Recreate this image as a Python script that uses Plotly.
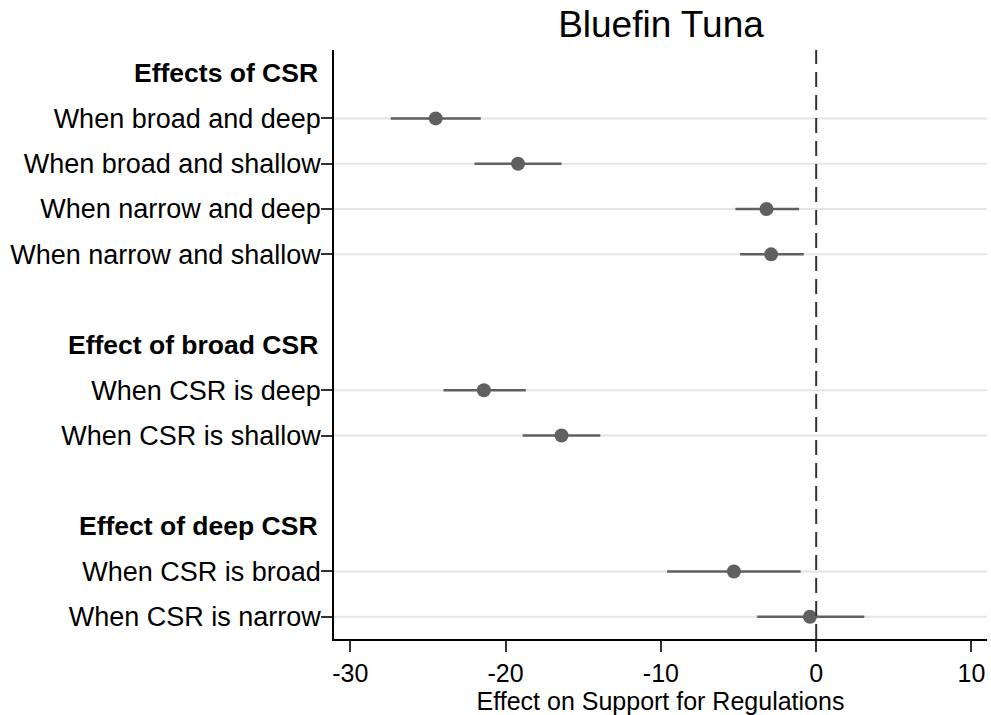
import plotly.graph_objects as go

# Grouped comparisons: section headers with their row labels
group_titles = ["Effects of CSR", "Effect of broad CSR", "Effect of deep CSR"]
group_rows = [
    ["When broad and deep", "When broad and shallow",
     "When narrow and deep", "When narrow and shallow"],
    ["When CSR is deep", "When CSR is shallow"],
    ["When CSR is broad", "When CSR is narrow"],
]

# Point estimates and confidence bounds, in row order
estimate = [-24.5, -19.2, -3.2, -2.9, -21.4, -16.4, -5.3, -0.4]
ci_low = [-27.4, -22.0, -5.2, -4.9, -24.0, -18.9, -9.6, -3.8]
ci_high = [-21.6, -16.4, -1.1, -0.8, -18.7, -13.9, -1.0, 3.1]

x_ticks = [-30, -20, -10, 0, 10]
reference_value = 0

# Lay the groups out top to bottom: header, rows, with a spacer between groups
header_pos, row_pos, row_labels = [], [], []
slot = 0
for gi, (title, rows) in enumerate(zip(group_titles, group_rows)):
    if gi > 0:
        slot += 1
    header_pos.append(slot)
    slot += 1
    for r in rows:
        row_pos.append(slot)
        row_labels.append(r)
        slot += 1
last_slot = slot - 1

FONT = "Liberation Sans, Arial, sans-serif"
MARK = "#606060"
LABEL_SIZE = 27

fig = go.Figure()

# Horizontal guide lines at each estimate row
for p in row_pos:
    fig.add_shape(type="line", xref="paper", x0=0, x1=1, yref="y", y0=p, y1=p,
                  line=dict(color="#e4e4e4", width=2), layer="below")

# Dashed reference line at zero effect
fig.add_shape(type="line", xref="x", x0=reference_value, x1=reference_value,
              yref="paper", y0=0, y1=1,
              line=dict(color="#333333", width=2, dash="15px,8px"), layer="above")

fig.add_trace(go.Scatter(
    x=estimate, y=row_pos, mode="markers",
    marker=dict(size=14, color=MARK),
    error_x=dict(type="data", symmetric=False,
                 array=[h - e for h, e in zip(ci_high, estimate)],
                 arrayminus=[e - l for e, l in zip(estimate, ci_low)],
                 color=MARK, thickness=2.5, width=0),
    showlegend=False, hoverinfo="x+y",
))

for title, p in zip(group_titles, header_pos):
    fig.add_annotation(text="<b>%s</b>" % title, xref="paper", x=0, xanchor="right",
                       xshift=-14, yref="y", y=p, yanchor="middle", showarrow=False,
                       font=dict(family=FONT, size=LABEL_SIZE - 0.5, color="black"))

fig.update_layout(
    width=991, height=715,
    margin=dict(l=334, r=4, t=50, b=76),
    plot_bgcolor="white", paper_bgcolor="white",
    title=dict(text="Bluefin Tuna", x=0.667, xanchor="center", y=0.967, yanchor="middle",
               font=dict(family=FONT, size=37, color="black")),
    font=dict(family=FONT, color="black"),
)

fig.update_xaxes(
    range=[-31.05, 11.0], tickvals=x_ticks, ticktext=[str(v) for v in x_ticks],
    showgrid=False, zeroline=False, showline=True, linecolor="black", linewidth=1.5,
    ticks="outside", ticklen=11, tickwidth=1.5, tickcolor="#333333",
    tickfont=dict(family=FONT, size=25),
    title=dict(text="Effect on Support for Regulations", standoff=6,
               font=dict(family=FONT, size=25)),
)

fig.update_yaxes(
    range=[last_slot + 0.49, -0.51], tickvals=row_pos, ticktext=row_labels,
    showgrid=False, zeroline=False, showline=True, linecolor="black", linewidth=1.5,
    ticks="outside", ticklen=11, tickwidth=1.5, tickcolor="#333333",
    tickfont=dict(family=FONT, size=LABEL_SIZE), ticklabelstandoff=-5,
)

fig.write_html("out.html")
